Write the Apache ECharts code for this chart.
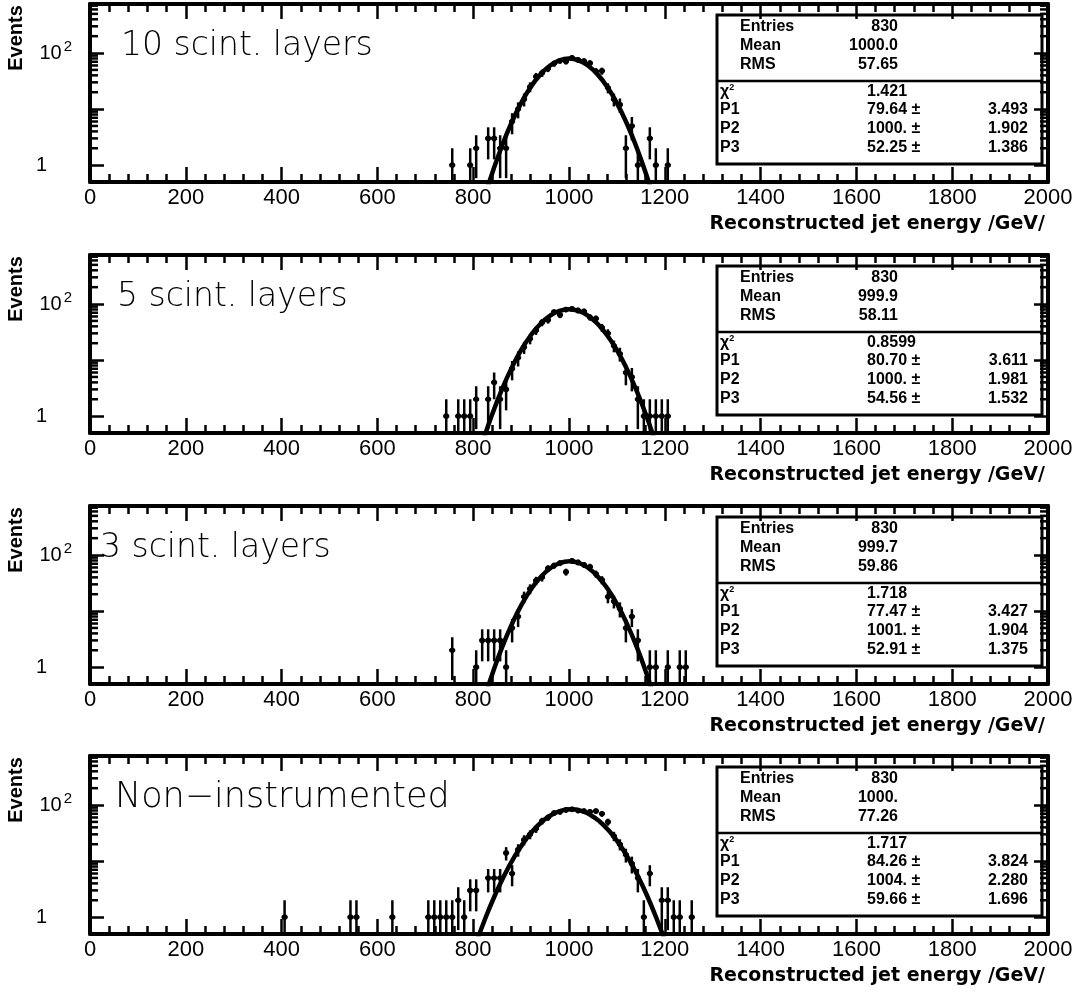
<!DOCTYPE html>
<html><head><meta charset="utf-8">
<script src="https://cdn.jsdelivr.net/npm/echarts@6/dist/echarts.min.js"></script>
<style>html,body{margin:0;padding:0;background:#fff}#c{width:1091px;height:999px}</style>
</head><body><div id="c"></div>
<script>
// ---------------- data ----------------
const panelTitles = ['10 scint. layers', '5 scint. layers', '3 scint. layers', 'Non\u2212instrumented'];
const xAxisTitle = 'Reconstructed jet energy /GeV/';
const yAxisTitle = 'Events';

// histogram bin centres (GeV) and counts
const energy1 = [756.25, 793.75, 806.25, 831.25, 843.75, 856.25, 868.75, 881.25, 893.75, 906.25, 918.75, 931.25, 943.75, 956.25, 968.75, 981.25, 993.75, 1006.25, 1018.75, 1031.25, 1043.75, 1056.25, 1068.75, 1081.25, 1093.75, 1106.25, 1118.75, 1131.25, 1143.75, 1168.75, 1181.25, 1206.25];
const counts1 = [1, 1, 2, 3, 3, 2, 2, 6, 10, 15, 25, 38, 44, 53, 65, 73, 71, 82, 76, 72, 66, 47, 48, 24, 15, 12, 2, 5, 1, 3, 1, 1];

const energy2 = [743.75, 768.75, 781.25, 793.75, 806.25, 831.25, 843.75, 856.25, 868.75, 881.25, 893.75, 906.25, 918.75, 931.25, 943.75, 956.25, 968.75, 981.25, 993.75, 1006.25, 1018.75, 1031.25, 1043.75, 1056.25, 1068.75, 1081.25, 1093.75, 1106.25, 1118.75, 1131.25, 1143.75, 1156.25, 1168.75, 1181.25, 1193.75, 1206.25];
const counts2 = [1, 1, 1, 1, 2, 2, 4, 2, 3, 7, 11, 17, 24, 34, 47, 52, 72, 64, 80, 82, 77, 74, 58, 55, 38, 30, 18, 13, 6, 5, 2, 1, 1, 1, 1, 1];

const energy3 = [756.25, 806.25, 818.75, 831.25, 843.75, 856.25, 868.75, 881.25, 893.75, 906.25, 918.75, 931.25, 943.75, 956.25, 968.75, 981.25, 993.75, 1006.25, 1018.75, 1031.25, 1043.75, 1056.25, 1068.75, 1081.25, 1093.75, 1106.25, 1118.75, 1131.25, 1143.75, 1168.75, 1181.25, 1206.25, 1231.25, 1243.75];
const counts3 = [2, 1, 3, 3, 3, 3, 1, 5, 8, 18, 25, 35, 40, 58, 65, 72, 50, 79, 74, 67, 62, 46, 36, 18, 15, 11, 5, 8, 3, 1, 1, 1, 1, 1];

const energy4 = [406.25, 543.75, 556.25, 631.25, 706.25, 718.75, 731.25, 743.75, 756.25, 768.75, 781.25, 793.75, 806.25, 831.25, 843.75, 856.25, 868.75, 881.25, 893.75, 906.25, 918.75, 931.25, 943.75, 956.25, 968.75, 981.25, 993.75, 1006.25, 1018.75, 1031.25, 1043.75, 1056.25, 1068.75, 1081.25, 1093.75, 1106.25, 1118.75, 1131.25, 1143.75, 1156.25, 1168.75, 1193.75, 1206.25, 1218.75, 1231.25, 1256.25];
const counts4 = [1, 1, 1, 1, 1, 1, 1, 1, 1, 2, 1, 3, 3, 5, 5, 5, 14, 6, 16, 24, 30, 38, 52, 60, 72, 76, 82, 84, 80, 78, 76, 78, 70, 50, 28, 20, 13, 9, 5, 1, 6, 2, 2, 1, 1, 1];

// fitted gaussian curves
const fitX1 = [820, 840, 860, 880, 900, 920, 940, 960, 980, 1000, 1020, 1040, 1060, 1080, 1100, 1120, 1140, 1160, 1180];
const fitY1 = [0.21, 0.73, 2.2, 5.7, 12.8, 24.7, 41.2, 59.4, 74.0, 79.6, 74.0, 59.4, 41.2, 24.7, 12.8, 5.7, 2.2, 0.73, 0.21];
const fitX2 = [820, 840, 860, 880, 900, 920, 940, 960, 980, 1000, 1020, 1040, 1060, 1080, 1100, 1120, 1140, 1160, 1180];
const fitY2 = [0.35, 1.10, 3.0, 7.19, 15.0, 27.5, 44.1, 61.7, 75.5, 80.7, 75.5, 61.7, 44.1, 27.5, 15.0, 7.19, 3.0, 1.10, 0.35];
const fitX3 = [821, 841, 861, 881, 901, 921, 941, 961, 981, 1001, 1021, 1041, 1061, 1081, 1101, 1121, 1141, 1161, 1181];
const fitY3 = [0.24, 0.80, 2.34, 5.92, 13.0, 24.7, 40.7, 58.2, 72.1, 77.5, 72.1, 58.2, 40.7, 24.7, 13.0, 5.92, 2.34, 0.80, 0.24];
const fitX4 = [804, 824, 844, 864, 884, 904, 924, 944, 964, 984, 1004, 1024, 1044, 1064, 1084, 1104, 1124, 1144, 1164, 1184, 1204];
const fitY4 = [0.31, 0.89, 2.31, 5.37, 11.1, 20.7, 34.3, 50.8, 67.3, 79.7, 84.3, 79.7, 67.3, 50.8, 34.3, 20.7, 11.1, 5.37, 2.31, 0.89, 0.31];

// statistics boxes
const statEntries = ['830', '830', '830', '830'];
const statMean = ['1000.0', '999.9', '999.7', '1000.'];
const statRMS = ['57.65', '58.11', '59.86', '77.26'];
const statChi2 = ['1.421', '0.8599', '1.718', '1.717'];
const statP1 = ['79.64', '80.70', '77.47', '84.26'];
const statP1err = ['3.493', '3.611', '3.427', '3.824'];
const statP2 = ['1000.', '1000.', '1001.', '1004.'];
const statP2err = ['1.902', '1.981', '1.904', '2.280'];
const statP3 = ['52.25', '54.56', '52.91', '59.66'];
const statP3err = ['1.386', '1.532', '1.375', '1.696'];

// axis ranges and tick values
const xMin = 0, xMax = 2000, xStep = 200;
const yMin = 0.5, yMax = 750;
const binWidth = 12.5;
const yMinorTicks = [2, 3, 4, 5, 6, 7, 8, 9, 20, 30, 40, 50, 60, 70, 80, 90, 200, 300, 400, 500, 600, 700];

// ---------------- layout ----------------
const energies = [energy1, energy2, energy3, energy4];
const counts = [counts1, counts2, counts3, counts4];
const fitXs = [fitX1, fitX2, fitX3, fitX4];
const fitYs = [fitY1, fitY2, fitY3, fitY4];

const tops = [4, 255, 506, 756];
const H = 178;
const L = 90, R = 1048;
const titleX = [121, 117, 100, 115];
const titleSize = [33, 33, 33, 35];
const FRAME = 4, TICKW = 2.5;

const chart = echarts.init(document.getElementById('c'));

const grids = [], xAxes = [], yAxes = [], series = [], graphics = [];

function yLabel(v) {
  const lg = Math.log10(v);
  if (Math.abs(lg) < 1e-6) return '{one|1}';
  if (Math.abs(lg - 2) < 1e-6) return '{ten|10}{sup|2}';
  return '';
}

function renderPoint(params, api) {
  const x = api.value(0), n = api.value(1);
  const cs = params.coordSys;
  const bottom = cs.y + cs.height, top = cs.y;
  const e = Math.sqrt(n);
  const c = api.coord([x, n]);
  const hi = api.coord([x, n + e])[1];
  const lowV = n - e;
  const lo = lowV > yMin ? api.coord([x, lowV])[1] : bottom;
  const xl = api.coord([x - binWidth / 2, n])[0];
  const xr = api.coord([x + binWidth / 2, n])[0];
  return {
    type: 'group', children: [
      { type: 'line', shape: { x1: c[0], y1: Math.max(hi, top), x2: c[0], y2: lo }, style: { stroke: '#000', lineWidth: 2.5 } },
      { type: 'line', shape: { x1: xl, y1: c[1], x2: xr, y2: c[1] }, style: { stroke: '#000', lineWidth: 2.5 } },
      { type: 'circle', shape: { cx: c[0], cy: c[1], r: 2.8 }, style: { fill: '#000' } }
    ]
  };
}

function renderMinor(params, api) {
  const cs = params.coordSys;
  const y = api.coord([api.value(0), api.value(1)])[1];
  return {
    type: 'group', children: [
      { type: 'line', shape: { x1: cs.x, y1: y, x2: cs.x + 8, y2: y }, style: { stroke: '#000', lineWidth: TICKW } },
      { type: 'line', shape: { x1: cs.x + cs.width, y1: y, x2: cs.x + cs.width - 8, y2: y }, style: { stroke: '#000', lineWidth: TICKW } }
    ]
  };
}

const axisLine = { show: true, onZero: false, lineStyle: { color: '#000', width: FRAME } };

for (let i = 0; i < 4; i++) {
  const T = tops[i];
  grids.push({ left: L, width: R - L, top: T, height: H, containLabel: false });
  // bottom x
  xAxes.push({
    gridIndex: i, type: 'value', min: xMin, max: xMax, interval: xStep, position: 'bottom',
    axisLine: axisLine,
    axisTick: { show: true, inside: true, length: 15, lineStyle: { color: '#000', width: TICKW } },
    minorTick: { show: true, splitNumber: 5, length: 8, lineStyle: { color: '#000', width: TICKW } },
    splitLine: { show: false }, minorSplitLine: { show: false },
    axisLabel: { show: true, color: '#000', fontSize: 22, fontFamily: 'Liberation Sans', margin: 5,
      showMinLabel: true, showMaxLabel: true, hideOverlap: false,
      formatter: v => String(v) }
  });
  // top x
  xAxes.push({
    gridIndex: i, type: 'value', min: xMin, max: xMax, interval: xStep, position: 'top',
    axisLine: axisLine,
    axisTick: { show: true, inside: true, length: 15, lineStyle: { color: '#000', width: TICKW } },
    minorTick: { show: true, splitNumber: 5, length: 8, lineStyle: { color: '#000', width: TICKW } },
    splitLine: { show: false }, minorSplitLine: { show: false },
    axisLabel: { show: false }
  });
  // left y
  yAxes.push({
    gridIndex: i, type: 'log', logBase: 10, min: yMin, max: yMax, position: 'left',
    axisLine: axisLine,
    axisTick: { show: true, inside: true, length: 14, lineStyle: { color: '#000', width: TICKW } },
    splitLine: { show: false }, minorTick: { show: false },
    axisLabel: {
      show: true, margin: 18, align: 'right', color: '#000', fontFamily: 'Liberation Sans',
      showMinLabel: false, showMaxLabel: false,
      formatter: yLabel,
      rich: {
        one: { fontSize: 20, fontFamily: 'Liberation Sans', color: '#000', padding: [0, 25, 0, 0] },
        ten: { fontSize: 20, fontFamily: 'Liberation Sans', color: '#000' },
        sup: { fontSize: 15, fontFamily: 'Liberation Sans', color: '#000', padding: [0, 0, 12, 2] }
      }
    }
  });
  // right y
  yAxes.push({
    gridIndex: i, type: 'log', logBase: 10, min: yMin, max: yMax, position: 'right',
    axisLine: axisLine,
    axisTick: { show: true, inside: true, length: 14, lineStyle: { color: '#000', width: TICKW } },
    splitLine: { show: false }, minorTick: { show: false },
    axisLabel: { show: false }
  });

  series.push({
    type: 'custom', xAxisIndex: 2 * i, yAxisIndex: 2 * i, renderItem: renderMinor, silent: true, z: 5,
    clip: false,
    data: yMinorTicks.map(v => [1000, v])
  });
  series.push({
    type: 'line', xAxisIndex: 2 * i, yAxisIndex: 2 * i, smooth: true, showSymbol: false, symbol: 'none',
    clip: true, z: 3,
    lineStyle: { color: '#000', width: 4.5 },
    data: fitXs[i].map((x, k) => [x, fitYs[i][k]])
  });
  series.push({
    type: 'custom', xAxisIndex: 2 * i, yAxisIndex: 2 * i, renderItem: renderPoint, z: 4, clip: true,
    data: energies[i].map((x, k) => [x, counts[i][k]])
  });

  // y title
  graphics.push({
    type: 'text', x: 16, y: T + 34, rotation: Math.PI / 2,
    style: { text: yAxisTitle, font: 'bold 20px "Liberation Sans"', fill: '#000', align: 'center', verticalAlign: 'middle' }
  });
  // panel title
  graphics.push({
    type: 'text', x: titleX[i], y: T + 42,
    style: { text: panelTitles[i], font: '200 ' + titleSize[i] + 'px "DejaVu Sans"', fill: '#000', align: 'left', verticalAlign: 'middle' }
  });
  // x title
  graphics.push({
    type: 'text', x: 1045, y: T + H + 42,
    style: { text: xAxisTitle, font: 'bold 19px "DejaVu Sans"', fill: '#000', align: 'right', verticalAlign: 'middle' }
  });
  // stats box
  const bx = 717, bw = 325;
  const f = 'bold 16px "Liberation Sans"';
  const t = (text, x, y, align) => ({ type: 'text', x: x, y: y, style: { text: text, font: f, fill: '#000', align: align, verticalAlign: 'middle' } });
  graphics.push({
    type: 'group', z: 10, children: [
      { type: 'rect', shape: { x: bx, y: T + 11, width: bw, height: 149 }, style: { fill: '#fff', stroke: '#000', lineWidth: 3 } },
      { type: 'line', shape: { x1: bx, y1: T + 77, x2: bx + bw, y2: T + 77 }, style: { stroke: '#000', lineWidth: 2.5 } },
      t('Entries', 740, T + 23, 'left'), t(statEntries[i], 898, T + 23, 'right'),
      t('Mean', 740, T + 42, 'left'), t(statMean[i], 898, T + 42, 'right'),
      t('RMS', 740, T + 61, 'left'), t(statRMS[i], 898, T + 61, 'right'),
      { type: 'text', x: 720, y: T + 88, style: { text: '{c|\u03c7}{s|2}', fill: '#000', verticalAlign: 'middle',
        rich: { c: { font: 'bold 16px "Liberation Sans"', fill: '#000' }, s: { font: 'bold 9px "Liberation Sans"', fill: '#000', padding: [0, 0, 9, 0] } } } },
      t(statChi2[i], 867, T + 88, 'left'),
      t('P1', 720, T + 106, 'left'), t(statP1[i] + ' \u00b1', 867, T + 106, 'left'), t(statP1err[i], 1028, T + 106, 'right'),
      t('P2', 720, T + 125, 'left'), t(statP2[i] + ' \u00b1', 867, T + 125, 'left'), t(statP2err[i], 1028, T + 125, 'right'),
      t('P3', 720, T + 144, 'left'), t(statP3[i] + ' \u00b1', 867, T + 144, 'left'), t(statP3err[i], 1028, T + 144, 'right')
    ]
  });
}

chart.setOption({
  animation: false,
  backgroundColor: '#fff',
  grid: grids, xAxis: xAxes, yAxis: yAxes, series: series, graphic: graphics
});
</script></body></html>
